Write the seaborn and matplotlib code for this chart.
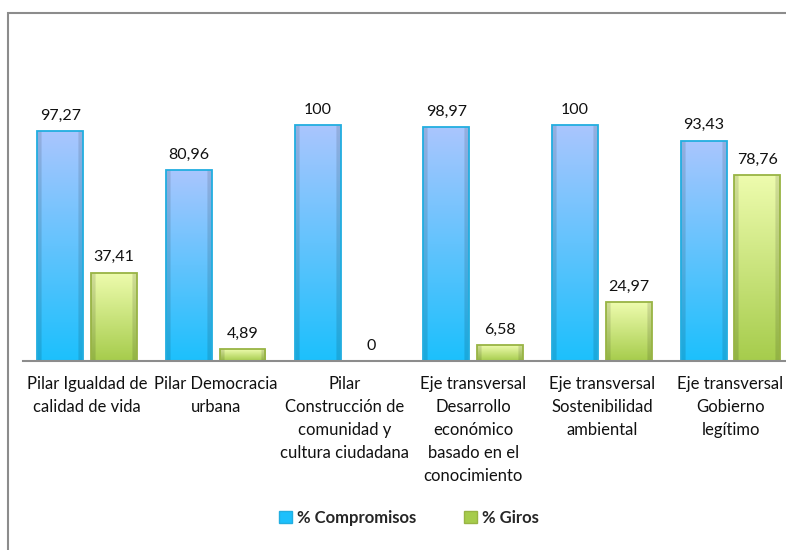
import numpy as np
import pandas as pd
import matplotlib.pyplot as plt
import matplotlib.colors as mcolors
from matplotlib.patches import Rectangle, Patch
import seaborn as sns

categorias = ["Pilar Igualdad de\ncalidad de vida",
              "Pilar Democracia\nurbana",
              "Pilar\nConstrucción de\ncomunidad y\ncultura ciudadana",
              "Eje transversal\nDesarrollo\neconómico\nbasado en el\nconocimiento",
              "Eje transversal\nSostenibilidad\nambiental",
              "Eje transversal\nGobierno\nlegítimo"]
compromisos = [97.27, 80.96, 100, 98.97, 100, 93.43]
giros = [37.41, 4.89, 0, 6.58, 24.97, 78.76]
series = ["% Compromisos", "% Giros"]

# colores: (arriba, abajo, borde)
col_comp = ("#aac6fe", "#1cc0fc", "#22aee0")
col_giros = ("#eefcae", "#a6cc4c", "#98b444")

df = pd.DataFrame({
    "cat": categorias * 2,
    "val": compromisos + giros,
    "serie": [series[0]] * len(categorias) + [series[1]] * len(categorias),
})

sns.set_style("white")
plt.rcParams["font.family"] = ["Lato", "DejaVu Sans"]

fig = plt.figure(figsize=(7.86, 5.50), dpi=100)
W, H = 786, 550
ax = fig.add_axes([22.65 / W, (H - 361) / H, (786 - 22.65) / W, 306.8 / H])

sns.barplot(data=df, x="cat", y="val", hue="serie", width=0.833, gap=0.143,
            palette=[col_comp[1], col_giros[1]], ax=ax, legend=False)


def fmt(v):
    if float(v).is_integer():
        return str(int(v))
    return ("%.2f" % v).replace(".", ",")


def gradiente(ax, bar, top, bottom, edge):
    x0, y0 = bar.get_x(), bar.get_y()
    w, h = bar.get_width(), bar.get_height()
    if h <= 0:
        return
    n = 200
    t = np.linspace(0, 1, n)[:, None]
    c1 = np.array(mcolors.to_rgb(top))
    c2 = np.array(mcolors.to_rgb(bottom))
    img = c1 * (1 - t) + c2 * t
    img = np.repeat(img[:, None, :], 40, axis=1)
    # bordes laterales un poco mas oscuros
    xs = np.linspace(0, 1, 40)
    side = 1 - 0.12 * ((xs < 0.08) | (xs > 0.92))
    img = img * side[None, :, None]
    img = np.clip(img, 0, 1)
    im = ax.imshow(img, extent=[x0, x0 + w, y0, y0 + h], aspect="auto",
                   zorder=bar.get_zorder() + 0.1, interpolation="bilinear")
    im.set_clip_path(bar)
    ax.add_patch(Rectangle((x0, y0), w, h, fill=False, edgecolor=edge,
                           linewidth=1.3, zorder=bar.get_zorder() + 0.2))


colores = [col_comp, col_giros]
for cont, cols in zip(ax.containers, colores):
    for bar in cont:
        gradiente(ax, bar, *cols)
        ax.annotate(fmt(bar.get_height()),
                    (bar.get_x() + bar.get_width() / 2, bar.get_height()),
                    xytext=(0, 6), textcoords="offset points",
                    ha="center", va="bottom", fontsize=11.5, color="#111111")

ax.set_xlim(-0.5, 5.431)
ax.set_ylim(0, 130)
ax.set_yticks([])
ax.set_xlabel("")
ax.set_ylabel("")
for s in ["top", "right", "left"]:
    ax.spines[s].set_visible(False)
ax.spines["bottom"].set_color("#8c8c8c")
ax.spines["bottom"].set_linewidth(1.5)
ax.tick_params(axis="x", length=0, pad=11, labelsize=12, colors="#111111")
for lbl in ax.get_xticklabels():
    lbl.set_linespacing(1.53)
ax.patch.set_alpha(0)

handles = [Patch(facecolor=col_comp[1], edgecolor=col_comp[2]),
           Patch(facecolor=col_giros[1], edgecolor=col_giros[2])]
fig.legend(handles, series, loc="center", bbox_to_anchor=(409 / W, (H - 518) / H),
           ncol=2, frameon=False, handlelength=0.75, handleheight=0.75,
           handletextpad=0.3, columnspacing=2.9,
           prop={"weight": "bold", "size": 12})

# marco del grafico
fig.patches.append(Rectangle((8 / W, -0.1), 1.5, (H - 13) / H + 0.1,
                             transform=fig.transFigure, fill=False,
                             edgecolor="#8c8c8c", linewidth=1.5, zorder=0))

fig.savefig("out.png", dpi=100)
